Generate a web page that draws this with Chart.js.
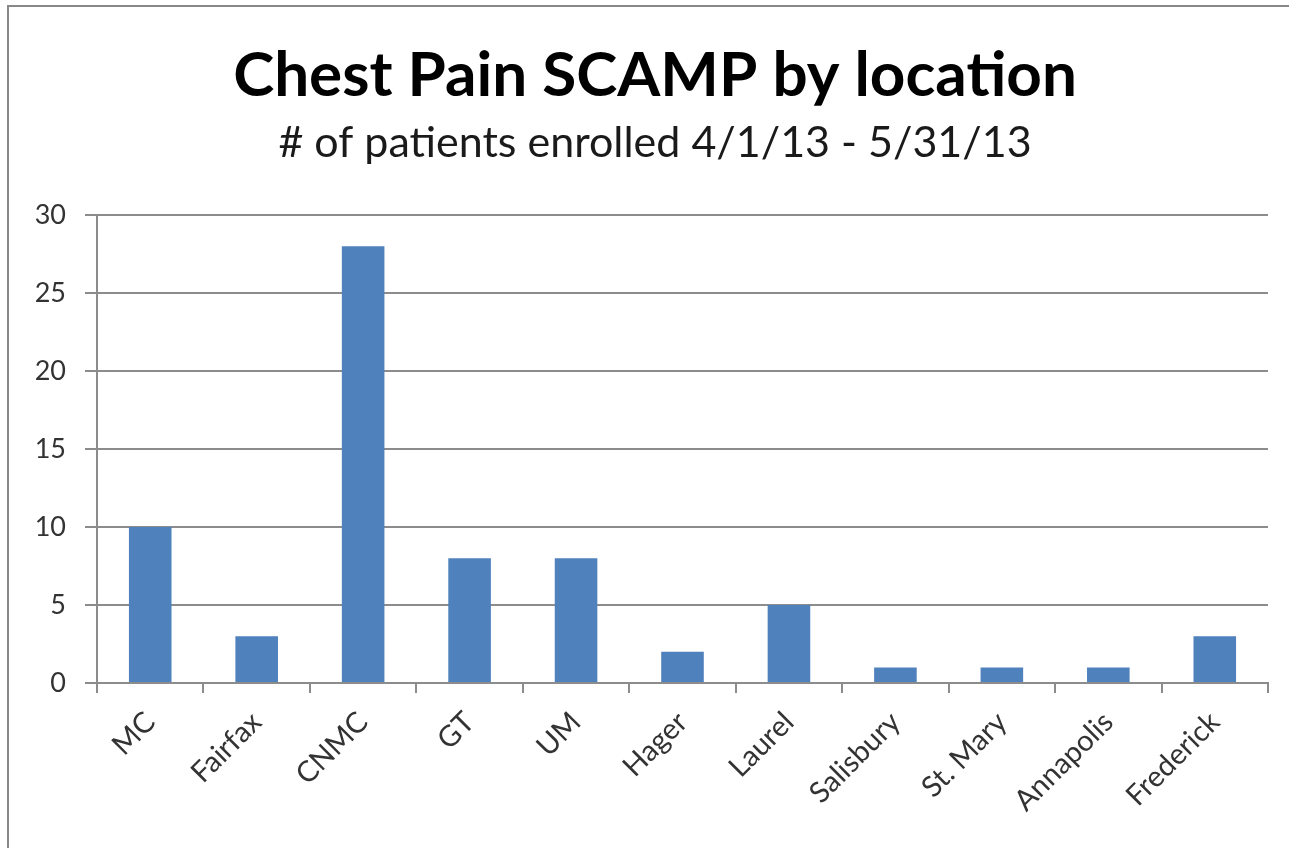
<!DOCTYPE html>
<html>
<head>
<meta charset="utf-8">
<script src="https://cdn.jsdelivr.net/npm/chart.js@4"></script>
<style>
  html, body { margin: 0; padding: 0; background: #fff; overflow: hidden; }
  #frame { position: absolute; left: 7px; top: 5px; width: 1320px; height: 900px; border: 2px solid #888; box-sizing: border-box; }
  #wrap { position: absolute; left: 0; top: 0; width: 1310px; height: 848px; }
</style>
</head>
<body>
<div id="frame"></div>
<div id="wrap"><canvas id="chart"></canvas></div>
<script>
// data
const locations = ['MC', 'Fairfax', 'CNMC', 'GT', 'UM', 'Hager', 'Laurel', 'Salisbury', 'St. Mary', 'Annapolis', 'Frederick'];
const patients = [10, 3, 28, 8, 8, 2, 5, 1, 1, 1, 3];
const titleText = 'Chest Pain SCAMP by location';
const subtitleText = '# of patients enrolled 4/1/13 - 5/31/13';

const gridColor = '#8c8c8c';
const font = 'Lato';

const ctx = document.getElementById('chart').getContext('2d');
new Chart(ctx, {
    type: 'bar',
    data: {
        labels: locations,
        datasets: [{
            label: 'Patients',
            data: patients,
            backgroundColor: '#4f81bd',
            borderWidth: 0,
            barPercentage: 0.4,
            categoryPercentage: 1
        }]
    },
    options: {
        responsive: true,
        maintainAspectRatio: false,
        animation: false,
        layout: { padding: { top: 32, left: 0, right: 0, bottom: 0 } },
        plugins: {
            legend: { display: false },
            tooltip: { enabled: false },
            title: {
                display: true,
                text: titleText,
                color: '#000',
                font: { family: font, size: 62, weight: 'bold', lineHeight: 1.2 },
                padding: { top: 7, bottom: 0 }
            },
            subtitle: {
                display: true,
                text: subtitleText,
                color: '#1a1a1a',
                font: { family: font, size: 43, weight: 'normal', lineHeight: 1.2 },
                padding: { top: 4, bottom: 46 }
            }
        },
        scales: {
            x: {
                grid: {
                    offset: true,
                    drawOnChartArea: false,
                    drawTicks: true,
                    tickLength: 10,
                    color: gridColor,
                    lineWidth: 2
                },
                border: { color: gridColor, width: 2 },
                ticks: {
                    color: '#333',
                    font: { family: font, size: 29 },
                    minRotation: 45,
                    maxRotation: 45,
                    padding: 12,
                    autoSkip: false
                },
                afterFit: function (scale) { scale.height = 165; }
            },
            y: {
                min: 0,
                max: 30,
                grid: {
                    color: gridColor,
                    lineWidth: 2,
                    tickLength: 12
                },
                border: { color: gridColor, width: 2 },
                ticks: {
                    stepSize: 5,
                    color: '#333',
                    font: { family: font, size: 27 },
                    padding: 19
                },
                afterFit: function (scale) { scale.width = 97; }
            },
            // empty right margin so the title centres on the whole frame
            yRight: {
                position: 'right',
                display: true,
                grid: { display: false },
                border: { display: false },
                ticks: { display: false },
                afterFit: function (scale) { scale.width = 42; }
            }
        }
    }
});
</script>
</body>
</html>
